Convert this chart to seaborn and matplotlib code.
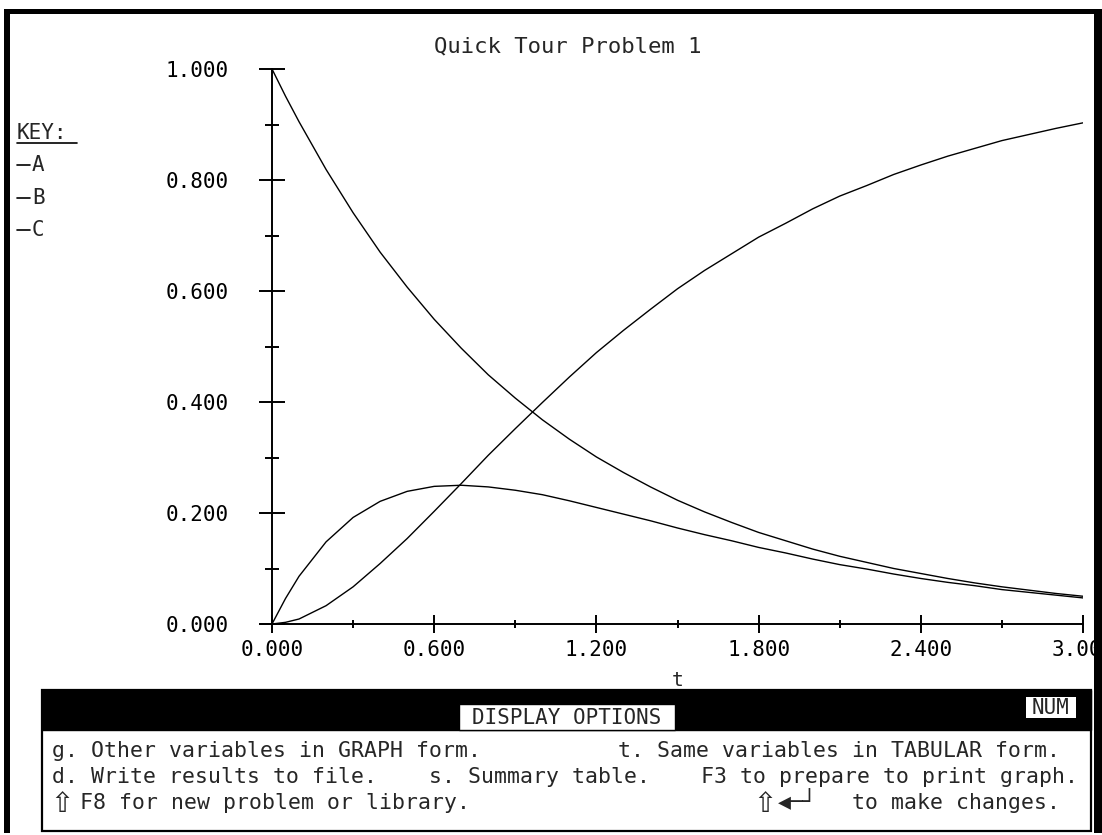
import numpy as np
import pandas as pd
import matplotlib
matplotlib.use("Agg")
import matplotlib.pyplot as plt
from matplotlib.patches import Rectangle
from matplotlib.ticker import FixedLocator, FormatStrFormatter
import seaborn as sns

# ---- data ----
t = [0.0, 0.05, 0.1, 0.2, 0.3, 0.4, 0.5, 0.6, 0.7, 0.8, 0.9, 1.0, 1.1, 1.2, 1.3, 1.4, 1.5,
     1.6, 1.7, 1.8, 1.9, 2.0, 2.1, 2.2, 2.3, 2.4, 2.5, 2.6, 2.7, 2.8, 2.9, 3.0]
A = [1.000, 0.951, 0.905, 0.819, 0.741, 0.670, 0.607, 0.549, 0.497, 0.449, 0.407, 0.368,
     0.333, 0.301, 0.273, 0.247, 0.223, 0.202, 0.183, 0.165, 0.150, 0.135, 0.122, 0.111,
     0.100, 0.091, 0.082, 0.074, 0.067, 0.061, 0.055, 0.050]
B = [0.000, 0.046, 0.086, 0.148, 0.192, 0.221, 0.239, 0.248, 0.250, 0.247, 0.241, 0.233,
     0.222, 0.210, 0.198, 0.186, 0.173, 0.161, 0.150, 0.138, 0.128, 0.117, 0.107, 0.099,
     0.090, 0.082, 0.075, 0.069, 0.062, 0.057, 0.052, 0.047]
C = [0.000, 0.003, 0.009, 0.033, 0.067, 0.109, 0.154, 0.203, 0.253, 0.304, 0.352, 0.399,
     0.445, 0.489, 0.529, 0.567, 0.604, 0.637, 0.667, 0.697, 0.722, 0.748, 0.771, 0.790,
     0.810, 0.827, 0.843, 0.857, 0.871, 0.882, 0.893, 0.903]
series_names = ["A", "B", "C"]
x_major = [0.0, 0.6, 1.2, 1.8, 2.4, 3.0]
x_minor = [0.3, 0.9, 1.5, 2.1, 2.7]
y_major = [0.0, 0.2, 0.4, 0.6, 0.8, 1.0]
y_minor = [0.1, 0.3, 0.5, 0.7, 0.9]
title = "Quick Tour Problem 1"
menu_line1 = ("g. Other variables in GRAPH form.", "t. Same variables in TABULAR form.")
menu_line2 = ("d. Write results to file.    s. Summary table.", "F3 to prepare to print graph.")
menu_line3 = ("F8 for new problem or library.", "to make changes.")

sns.set_style("white")
plt.rcParams["font.family"] = ["DejaVu Sans Mono", "DejaVu Sans"]

df = pd.DataFrame({
    "t": t * 3,
    "value": A + B + C,
    "species": sum([[n] * len(t) for n in series_names], []),
})

W, H = 1102, 835
fig = plt.figure(figsize=(W / 100, H / 100), dpi=100)
fig.patch.set_facecolor("white")

ax = fig.add_axes([272 / W, (H - 624) / H, (1083 - 272) / W, (624 - 69) / H])
sns.lineplot(data=df, x="t", y="value", hue="species",
             palette={n: "black" for n in series_names}, legend=False,
             linewidth=1.0, ax=ax, estimator=None)

ax.set_xlim(0, 3.0)
ax.set_ylim(0, 1.0)
for s in ["top", "right"]:
    ax.spines[s].set_visible(False)
for s in ["left", "bottom"]:
    ax.spines[s].set_linewidth(1.4)
    ax.spines[s].set_color("black")
ax.spines["bottom"].set_bounds(-0.04, 3.0)
ax.patch.set_alpha(0)

ax.xaxis.set_major_locator(FixedLocator(x_major))
ax.xaxis.set_minor_locator(FixedLocator(x_minor))
ax.yaxis.set_major_locator(FixedLocator(y_major))
ax.yaxis.set_minor_locator(FixedLocator(y_minor))
ax.xaxis.set_major_formatter(FormatStrFormatter("%.3f"))
ax.yaxis.set_major_formatter(FormatStrFormatter("%.3f"))
ax.tick_params(which="both", bottom=True, left=True, top=False, right=False,
               color="black")
ax.tick_params(axis="x", which="major", direction="inout", length=13, width=1.4,
               pad=5, labelsize=15, labelcolor="black")
ax.tick_params(axis="x", which="minor", direction="inout", length=5.5, width=1.4)
ax.tick_params(axis="y", which="major", direction="inout", length=18.7, width=1.4,
               pad=22, labelsize=15, labelcolor="black")
ax.tick_params(axis="y", which="minor", direction="inout", length=10, width=1.4)
ax.set_xlabel("t", fontsize=14, labelpad=8)
ax.set_ylabel("")
ax.set_title(title, x=(568 - 272) / (1083 - 272), pad=12, fontsize=16)
ax.grid(False)

# ---- overlay in pixel coordinates for the screen decorations ----
ov = fig.add_axes([0, 0, 1, 1], zorder=5)
ov.set_xlim(0, W)
ov.set_ylim(H, 0)
ov.axis("off")
ov.patch.set_alpha(0)

# key
ov.text(17, 133, "KEY:", fontsize=15, va="center", ha="left")
ov.plot([17, 77], [143, 143], color="black", lw=1.2)
for yy, n in zip([165, 198, 230], series_names):
    ov.plot([17, 30], [yy, yy], color="black", lw=1.2)
    ov.text(32, yy, n, fontsize=15, va="center", ha="left")

# outer screen frame
ov.add_patch(Rectangle((4, 9), W - 4, 5, facecolor="black", edgecolor="none"))
ov.add_patch(Rectangle((4, 9), 6, H - 11, facecolor="black", edgecolor="none"))
ov.add_patch(Rectangle((1094, 9), W - 1094, H - 11, facecolor="black", edgecolor="none"))

# bottom panel
ov.add_patch(Rectangle((42, 690), 1091 - 42, 831 - 690, facecolor="white",
                       edgecolor="black", lw=1.6))
ov.add_patch(Rectangle((42, 690), 1091 - 42, 40, facecolor="black", edgecolor="black"))
ov.add_patch(Rectangle((459, 704), 675 - 459, 26, facecolor="white", edgecolor="black", lw=1))
ov.text(567, 718, "DISPLAY OPTIONS", fontsize=15, ha="center", va="center")
ov.add_patch(Rectangle((1026, 697), 50, 21, facecolor="white", edgecolor="none"))
ov.text(1051, 708, "NUM", fontsize=15, ha="center", va="center")

ov.text(52, 751, menu_line1[0], fontsize=15.5, ha="left", va="center")
ov.text(1060, 751, menu_line1[1], fontsize=15.5, ha="right", va="center")
ov.text(52, 777, menu_line2[0], fontsize=15.5, ha="left", va="center")
ov.text(1078, 777, menu_line2[1], fontsize=15.5, ha="right", va="center")
# shift-arrow glyphs drawn larger, as on the DOS screen
ov.text(62, 804, "\u21e7", fontsize=20, ha="center", va="center",
        family=["DejaVu Sans", "DejaVu Sans Mono"])
ov.text(80, 803, menu_line3[0], fontsize=15.5, ha="left", va="center")
ov.text(765, 804, "\u21e7", fontsize=20, ha="center", va="center",
        family=["DejaVu Sans", "DejaVu Sans Mono"])
ov.text(778, 801, "\u25c0\u2500\u2518", fontsize=15.5, ha="left", va="center")
ov.text(1060, 803, menu_line3[1], fontsize=15.5, ha="right", va="center")

fig.savefig("out.png", dpi=100)
